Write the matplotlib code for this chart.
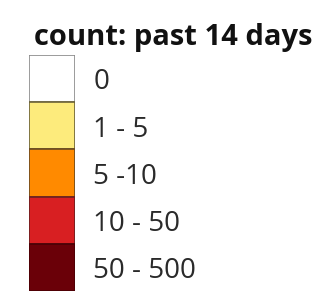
import matplotlib
matplotlib.use("Agg")
import matplotlib.pyplot as plt

title = "count: past 14 days"
labels = ["0", "1 - 5", "5 -10", "10 - 50", "50 - 500"]
colors = ["#FFFFFF", "#FDEB7C", "#FF8A00", "#D81F22", "#6A0008"]
edges = ["#8a8a8a", "#6b6238", "#6b4a20", "#6b2020", "#4a0005"]

W, H = 334, 299
fig = plt.figure(figsize=(W / 100, H / 100), dpi=100)
fig.patch.set_facecolor("white")

# swatch column axes (pixel layout)
x0, x1, y0, y1 = 29, 75, 55, 291
ax = fig.add_axes([x0 / W, 1 - y1 / H, (x1 - x0) / W, (y1 - y0) / H])
n = len(labels)
for i, (lab, c, e) in enumerate(zip(labels, colors, edges)):
    ax.bar(0.5, 1, bottom=i, width=1, color=c, edgecolor=e, linewidth=1.2)
    ax.text(1.40, i + 0.73, lab, fontsize=20, family="Open Sans",
            color="#2a2a2a", va="baseline", ha="left", clip_on=False)
ax.set_xlim(0, 1)
ax.set_ylim(n, 0)
ax.axis("off")

fig.text(173 / W, 1 - 45 / H, title, fontsize=21, fontweight="bold",
         family="Open Sans", color="#111111", ha="center", va="baseline")

fig.savefig("out.png", dpi=100, facecolor="white")
